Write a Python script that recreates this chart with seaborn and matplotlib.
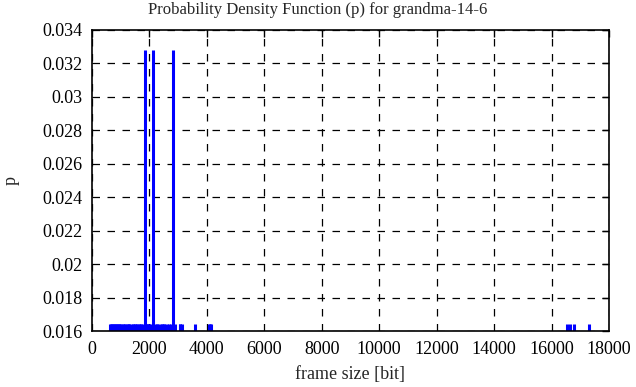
import matplotlib
matplotlib.use("Agg")
import matplotlib.pyplot as plt
import seaborn as sns
import pandas as pd
from matplotlib.ticker import FuncFormatter, MultipleLocator

# frame sizes [bit] seen once (p = 1/61) and twice (p = 2/61)
sizes_once = [630, 660, 700, 730, 770, 800, 830, 870, 900, 940,
              980, 1020, 1070, 1100, 1160, 1220, 1250, 1300, 1320, 1410,
              1440, 1480, 1540, 1570, 1620, 1680, 1720, 1790, 1880, 1920,
              1960, 2000, 2060, 2200, 2250, 2300, 2400, 2420, 2500, 2520,
              2600, 2680, 2750, 2880, 3050, 3080, 3130, 3600, 4080, 4120,
              4160, 16540, 16650, 16770, 17300]
sizes_twice = [1840, 2130, 2820]
p_once = 0.0164
p_twice = 0.0328

data = pd.DataFrame({
    'size': sizes_once + sizes_twice,
    'p': [p_once] * len(sizes_once) + [p_twice] * len(sizes_twice),
})

sns.set_style("white")
plt.rcParams['font.family'] = ['Liberation Serif', 'DejaVu Serif']

fig = plt.figure(figsize=(6.36, 3.87), dpi=100)
ax = fig.add_axes([0.1447, 0.1447, 0.8128, 0.7778])

ax.vlines(data['size'], 0, data['p'], color='#0000ff', lw=2.2)

ax.set_xlim(0, 18000)
ax.set_ylim(0.016, 0.034)
ax.xaxis.set_major_locator(MultipleLocator(2000))
ax.yaxis.set_major_locator(MultipleLocator(0.002))
ax.yaxis.set_major_formatter(FuncFormatter(lambda v, pos: f"{round(v, 4):g}"))

ax.grid(True, color='black', linestyle=(0, (6, 6)), lw=0.9)
ax.tick_params(direction='in', length=5, width=1, top=True, right=True,
               labelsize=13, colors='black', pad=7)
for s in ax.spines.values():
    s.set_color('black')
    s.set_linewidth(1.2)

# title is centred on the whole figure, not on the axes
fig.text(0.5, 0.975, 'Probability Density Function (p) for grandma-14-6',
         fontsize=12, ha='center', va='center')
ax.set_xlabel('frame size [bit]', fontsize=13, labelpad=6)
ax.set_ylabel('p', fontsize=13, labelpad=16)

plt.savefig('out.png', dpi=100)
plt.close()
